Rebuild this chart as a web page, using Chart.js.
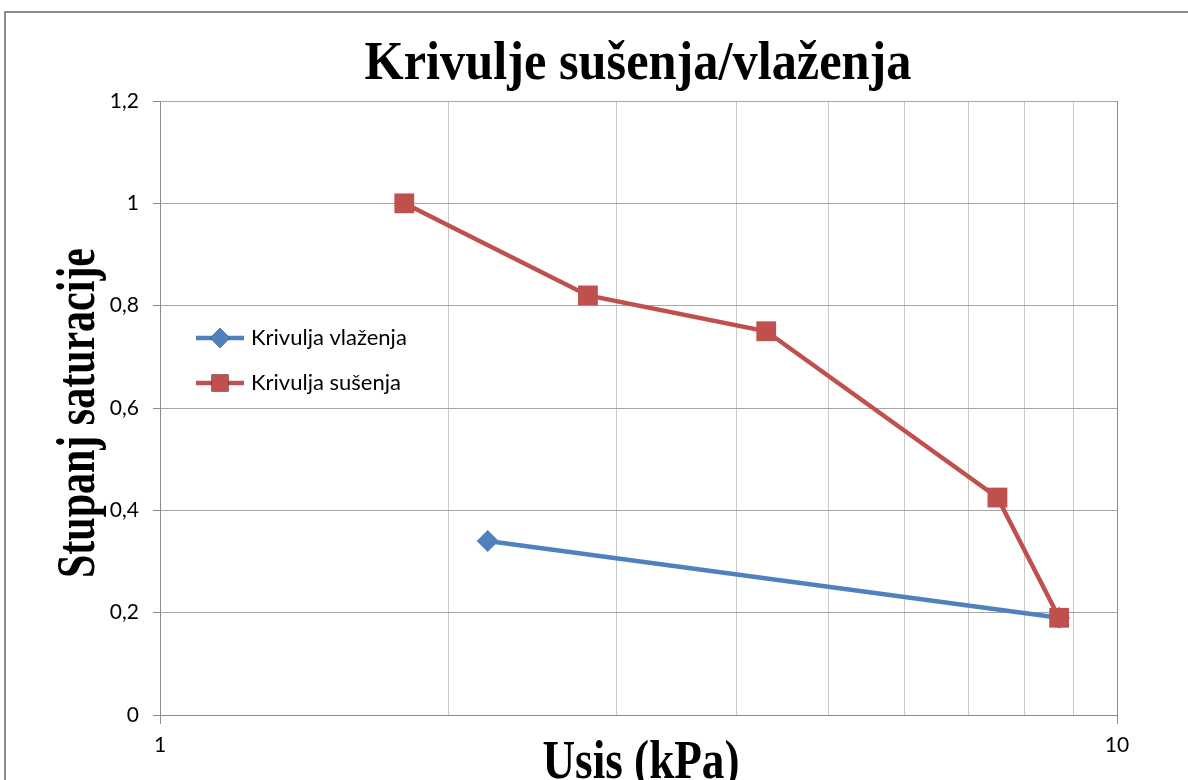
<!DOCTYPE html>
<html>
<head>
<meta charset="utf-8">
<title>Krivulje sušenja/vlaženja</title>
<script src="https://cdn.jsdelivr.net/npm/chart.js@4.4.1/dist/chart.umd.min.js"></script>
<style>
    html, body { margin: 0; padding: 0; background: #fff; }
</style>
</head>
<body>
<canvas id="grafik" width="1188" height="780"></canvas>
<script>
// mjerenja: usis u kPa, stupanj saturacije
const usisVlazenje = [2.2, 8.7];
const saturacijaVlazenje = [0.34, 0.19];
const usisSusenje = [1.8, 2.8, 4.3, 7.5, 8.7];
const saturacijaSusenje = [1.0, 0.82, 0.75, 0.425, 0.19];

const podjelaX = [1, 2, 3, 4, 5, 6, 7, 8, 9, 10];
const oznakeX = [1, 10];
const naslov = "Krivulje sušenja/vlaženja";
const naslovX = "Usis (kPa)";
const naslovY = "Stupanj saturacije";

const PLAVA = "#4f81bd";
const CRVENA = "#c0504d";

const uTocke = (xs, ys) => xs.map((x, i) => ({ x: x, y: ys[i] }));

const zarez = (v) => String(Math.round(v * 10) / 10).replace(".", ",");

// okvir, naslovi i legenda crtani rukom (Excel raspored)
const ukrasi = {
    id: "ukrasi",
    beforeDraw(chart) {
        const ctx = chart.ctx;
        ctx.save();
        ctx.fillStyle = "#fff";
        ctx.fillRect(0, 0, chart.width, chart.height);
        ctx.strokeStyle = "#8c8c8c";
        ctx.lineWidth = 2;
        ctx.beginPath();
        ctx.moveTo(5, chart.height + 5);
        ctx.lineTo(5, 12);
        ctx.lineTo(chart.width + 5, 12);
        ctx.stroke();
        ctx.restore();
    },
    afterDraw(chart) {
        const ctx = chart.ctx;

        const tekst = (s, x, y, sirina, okret) => {
            ctx.save();
            ctx.font = "bold 54px 'Liberation Serif', 'DejaVu Serif', serif";
            ctx.fillStyle = "#000";
            ctx.textAlign = "center";
            ctx.textBaseline = "alphabetic";
            const sx = sirina / ctx.measureText(s).width;
            ctx.translate(x, y);
            if (okret) ctx.rotate(-Math.PI / 2);
            ctx.scale(sx, 1);
            ctx.fillText(s, 0, 0);
            ctx.restore();
        };

        tekst(naslov, 638, 79, 547, false);
        tekst(naslovY, 94, 413, 330, true);
        tekst(naslovX, 641, 778, 197, false);

        // legenda unutar područja grafa
        const stavke = [
            { ds: chart.data.datasets[0], y: 338 },
            { ds: chart.data.datasets[1], y: 383 },
        ];
        stavke.forEach((st) => {
            ctx.save();
            ctx.strokeStyle = st.ds.borderColor;
            ctx.lineWidth = st.ds.borderWidth;
            ctx.beginPath();
            ctx.moveTo(196, st.y);
            ctx.lineTo(244, st.y);
            ctx.stroke();
            Chart.helpers.drawPoint(ctx, {
                pointStyle: st.ds.pointStyle,
                radius: st.ds.pointStyle === "rect" ? 12 : 10,
                borderWidth: 0,
                rotation: 0,
            }, 220, st.y);
            ctx.fillStyle = st.ds.pointBackgroundColor;
            ctx.fill();
            ctx.font = "22px Lato, 'Open Sans', sans-serif";
            ctx.fillStyle = "#000";
            ctx.textBaseline = "middle";
            ctx.fillText(st.ds.label, 251, st.y);
            ctx.restore();
        });
    },
};

new Chart(document.getElementById("grafik").getContext("2d"), {
    type: "line",
    data: {
        datasets: [
            {
                label: "Krivulja vlaženja",
                data: uTocke(usisVlazenje, saturacijaVlazenje),
                order: 1,
                borderColor: PLAVA,
                backgroundColor: PLAVA,
                pointBackgroundColor: PLAVA,
                pointBorderColor: PLAVA,
                borderWidth: 4.5,
                pointStyle: "rectRot",
                pointRadius: 11,
                pointBorderWidth: 0,
                tension: 0,
                fill: false,
            },
            {
                label: "Krivulja sušenja",
                data: uTocke(usisSusenje, saturacijaSusenje),
                order: 0,
                borderColor: CRVENA,
                backgroundColor: CRVENA,
                pointBackgroundColor: CRVENA,
                pointBorderColor: CRVENA,
                borderWidth: 4.5,
                pointStyle: "rect",
                pointRadius: 14,
                pointBorderWidth: 0,
                tension: 0,
                fill: false,
            },
        ],
    },
    options: {
        responsive: false,
        animation: false,
        layout: { padding: { left: 0, top: 101, right: 71, bottom: 0 } },
        plugins: {
            legend: { display: false },
            title: { display: false },
            tooltip: { enabled: false },
        },
        scales: {
            x: {
                type: "logarithmic",
                min: 1,
                max: 10,
                afterBuildTicks: (scale) => {
                    scale.ticks = podjelaX.map((v) => ({ value: v, major: oznakeX.includes(v) }));
                },
                afterFit: (scale) => { scale.height = 65; },
                border: { color: "#8c8c8c", width: 1 },
                grid: {
                    color: (c) => oznakeX.includes(c.tick && c.tick.value) ? "#8c8c8c" : "#c9c9c9",
                    tickColor: (c) => oznakeX.includes(c.tick && c.tick.value) ? "#8c8c8c" : "rgba(0,0,0,0)",
                    tickLength: 9,
                    lineWidth: 1,
                },
                ticks: {
                    autoSkip: false,
                    maxRotation: 0,
                    padding: 9,
                    color: "#000",
                    font: { family: "Lato, 'Open Sans', sans-serif", size: 21 },
                    callback: (v) => oznakeX.includes(v) ? String(v) : "",
                },
            },
            y: {
                min: 0,
                max: 1.2,
                afterFit: (scale) => { scale.width = 160; },
                border: { color: "#8c8c8c", width: 1 },
                grid: {
                    color: "#a6a6a6",
                    tickColor: "#8c8c8c",
                    tickLength: 7,
                    lineWidth: 1,
                },
                ticks: {
                    stepSize: 0.2,
                    padding: 14,
                    color: "#000",
                    font: { family: "Lato, 'Open Sans', sans-serif", size: 21 },
                    callback: (v) => zarez(v),
                },
            },
        },
    },
    plugins: [ukrasi],
});
</script>
</body>
</html>
